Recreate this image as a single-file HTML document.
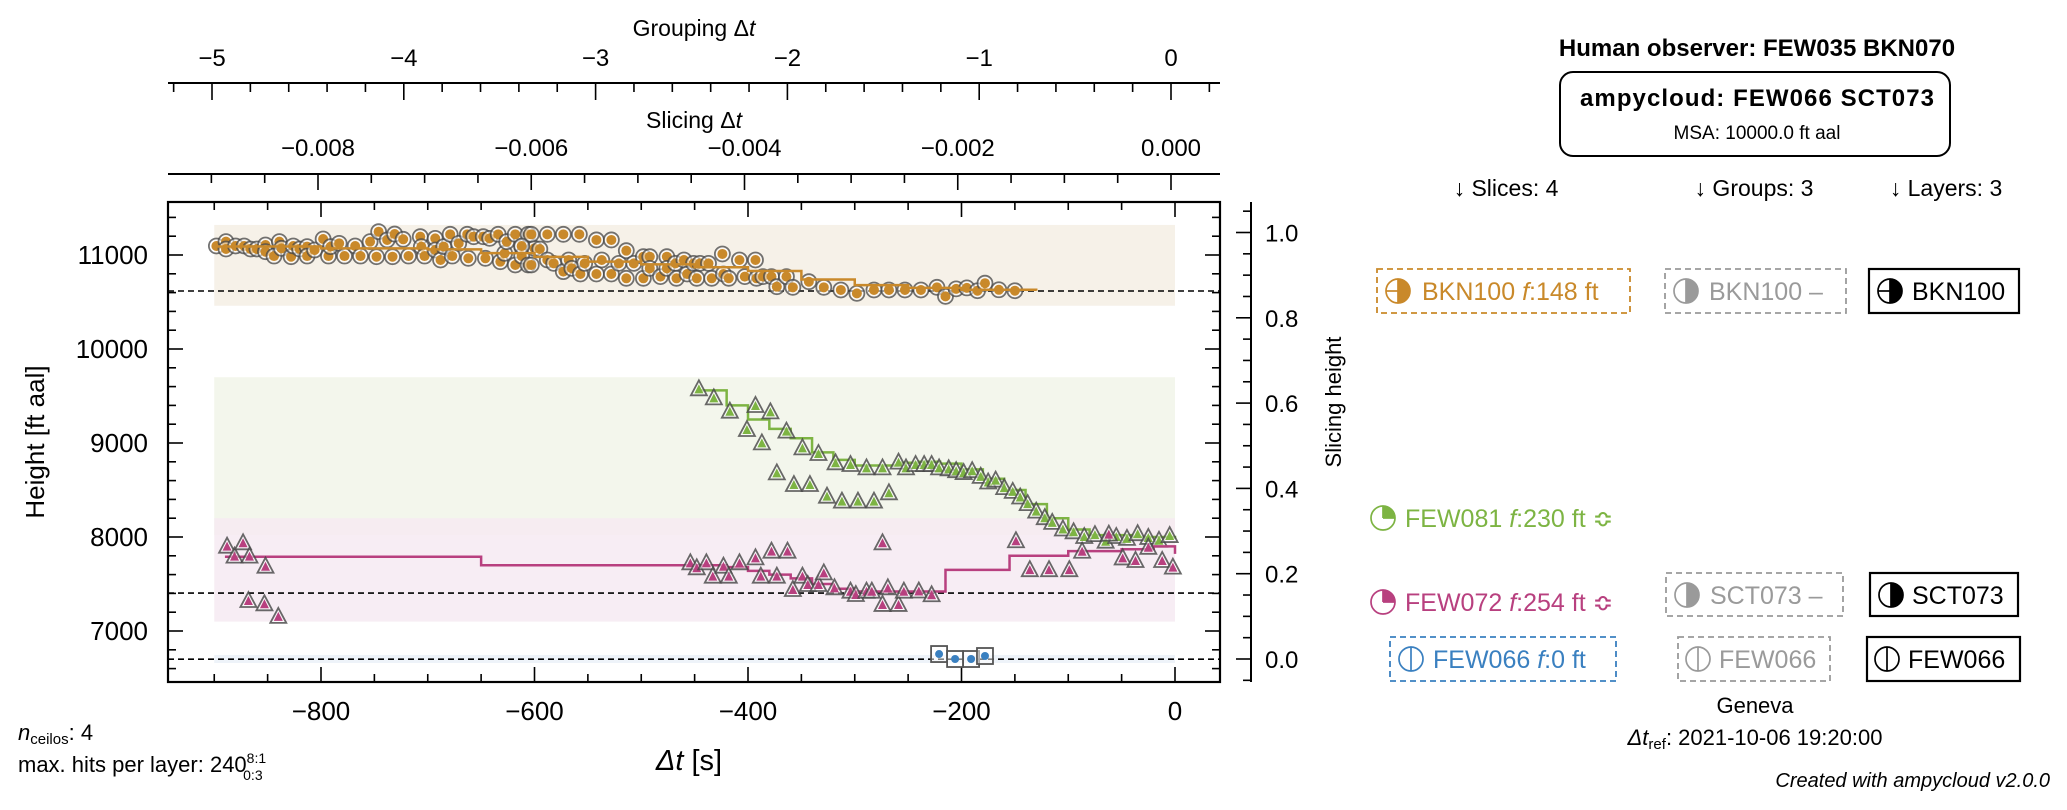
<!DOCTYPE html>
<html><head><meta charset="utf-8">
<style>
html,body{margin:0;padding:0;background:#fff;}
svg{display:block;font-family:"Liberation Sans","DejaVu Sans",sans-serif;}
</style></head>
<body>
<svg id="chart" width="2067" height="810" viewBox="0 0 2067 810" xmlns="http://www.w3.org/2000/svg">
<g id="bands"></g>
<g id="axes"></g>
<g id="marks"></g>
<g id="panel">
  <text x="1757" y="56" font-size="24" font-weight="bold" text-anchor="middle">Human observer: FEW035 BKN070</text>
  <rect x="1560" y="72" width="390" height="84" rx="13" fill="none" stroke="#000" stroke-width="2"/>
  <text x="1757" y="106" font-size="24" font-weight="bold" text-anchor="middle" textLength="354">ampycloud: FEW066 SCT073</text>
  <text x="1757" y="139" font-size="19" text-anchor="middle">MSA: 10000.0 ft aal</text>
  <text x="1506" y="196" font-size="23" text-anchor="middle">↓ Slices: 4</text>
  <text x="1754" y="196" font-size="23" text-anchor="middle">↓ Groups: 3</text>
  <text x="1946" y="196" font-size="23" text-anchor="middle">↓ Layers: 3</text>
  <text x="1755" y="713" font-size="22" text-anchor="middle">Geneva</text>
  <text x="1755" y="745" font-size="22" text-anchor="middle"><tspan font-style="italic">Δt</tspan><tspan font-size="15" dy="4">ref</tspan><tspan dy="-4">: 2021-10-06 19:20:00</tspan></text>
  <text x="2050" y="787" font-size="20" font-style="italic" text-anchor="end">Created with ampycloud v2.0.0</text>
  <text x="18" y="740" font-size="22"><tspan font-style="italic">n</tspan><tspan font-size="15" dy="4">ceilos</tspan><tspan dy="-4">: 4</tspan></text>
  <text x="18" y="772" font-size="22">max. hits per layer: 240<tspan font-size="14" dy="-9">8:1</tspan><tspan font-size="14" dx="-23" dy="17">0:3</tspan></text>
</g>
<g id="labels"></g>
</svg>
<script>
// ---------- data ----------
const orangeT=[-898,-889,-889,-880,-872,-866,-860,-852,-852,-844,-839,-837,-828,-826,-820,-813,-813,-806,-798,-793,-791,-783,-778,-768,-763,-754,-748,-746,-738,-733,-731,-723,-718,-707,-706,-703,-693,-693,-688,-685,-679,-677,-671,-663,-662,-657,-648,-646,-642,-634,-632,-628,-626,-618,-618,-612,-612,-606,-606,-600,
-612,-603,-603,-595,-588,-588,-582,-573,-573,-568,-565,-558,-557,-553,-542,-542,-537,-528,-528,-521,-514,-514,-507,-498,-498,-492,-492,-482,-476,-476,-468,-467,-460,-457,-451,-448,-445,-437,-434,-424,-423,-418,-408,-403,-393,-392,-386,-378,-373,-364,-358,-343,-329,-313,-298,-282,-268,-253,-238,-223,
-215,-205,-195,-185,-178,-165,-150];
const orangeH=[11096,11142,11064,11096,11096,11064,11064,11106,11035,10989,11142,11071,10982,11096,11064,11089,10989,11053,11170,10989,11089,11124,10989,11096,10989,11142,10982,11248,11160,10982,11223,11167,10989,11195,11089,10989,11177,11053,10947,11089,11220,10989,11124,11220,10965,11195,11195,10965,11177,11220,10929,11018,11142,11220,10894,11089,10989,11220,10894,11071,
11096,11220,10894,11064,11220,10947,10911,11220,10823,10947,10858,11220,10798,10911,11160,10798,10947,11160,10798,10911,11046,10752,10911,10982,10752,10982,10858,10770,10982,10858,10911,10752,10947,10798,10911,10752,10911,10911,10752,11011,10798,10752,10947,10770,10947,10752,10770,10770,10663,10770,10656,10716,10656,10628,10592,10628,10628,10628,10628,10656,
10560,10640,10650,10620,10700,10630,10620];
const orangeLineT=[-900,-800,-700,-650,-600,-550,-500,-450,-400,-350,-300,-250,-200,-130];
const orangeLineH=[11090,11070,11060,11020,10980,10930,10900,10870,10830,10740,10680,10650,10630,10620];

const greenT=[-446,-432,-417,-401,-393,-387,-379,-373,-364,-357,-349,-342,-334,-326,-318,-312,-304,-297,-289,-282,-274,-268,-259,-252,-243,-235,-228,-221,
-212,-205,-198,-190,-182,-175,-168,-160,-152,-145,-138,-130,-122,-115,-105,-95,-85,-75,-65,-55,-45,-35,-25,-15,-5];
const greenH=[9571,9475,9333,9138,9394,8996,9326,8677,9121,8553,8943,8553,8883,8429,8784,8376,8766,8376,8730,8376,8730,8465,8791,8730,8766,8766,8766,8730,
8720,8700,8680,8700,8640,8580,8600,8520,8480,8420,8350,8270,8200,8150,8080,8050,8000,8020,7950,8000,7980,8030,7990,7960,8010];
const greenLineT=[-446,-420,-400,-380,-360,-340,-320,-300,-280,-260,-240,-220,-200,-180,-160,-140,-120,-100,-80,-40,0];
const greenLineH=[9560,9400,9250,9150,9050,8900,8820,8760,8760,8790,8800,8780,8720,8620,8500,8350,8200,8080,8020,8000,7980];

const pinkT=[-888,-881,-873,-867,-852,-868,-853,-840,-454,-448,-439,-433,-423,-418,-408,-393,-388,-378,-373,-363,-358,-349,-344,-334,-329,-319,-304,-299,-289,-284,-274,-269,-274,-259,-254,-240,-228,
-149,-136,-118,-99,-87,-62,-49,-37,-25,-12,-2];
const pinkH=[7897,7791,7933,7791,7684,7319,7284,7150,7720,7667,7720,7578,7684,7578,7720,7773,7578,7844,7578,7844,7436,7578,7489,7489,7613,7454,7418,7383,7418,7418,7933,7454,7277,7277,7418,7420,7380,
7955,7647,7647,7647,7843,8025,7772,7745,7885,7745,7674];
const pinkLineT=[-890,-650,-440,-420,-400,-380,-360,-340,-320,-300,-215,-155,-100,-50,-20,0];
const pinkLineH=[7790,7700,7700,7680,7640,7600,7560,7500,7450,7420,7650,7800,7850,7870,7900,7820];

const blueT=[-221,-206,-191,-178];
const blueH=[6755,6702,6702,6734];

const bandLo=[10460,8020,7100,6660];
const bandHi=[11320,9700,8200,6745];
const dashedH=[10617,7404,6700];

const xTicks=[-800,-600,-400,-200,0];
const yTicks=[7000,8000,9000,10000,11000];
const groupTicks=[-5,-4,-3,-2,-1,0];
const sliceTicks=[-0.008,-0.006,-0.004,-0.002,0.000];
const sliceHTicks=[0.0,0.2,0.4,0.6,0.8,1.0];

// ---------- scales ----------
const L=168,R=1220,T=202,B=682;
const X=t=>1175+t*1.0675;
const Y=h=>255+(11000-h)*0.094;
const GX=g=>1171+g*191.8;
const SX=s=>1171+s*106625;
const SY=v=>659-v*426.5;
const NS="http://www.w3.org/2000/svg";
function mk(tag,attrs,parent){const e=document.createElementNS(NS,tag);for(const k in attrs)e.setAttribute(k,attrs[k]);parent.appendChild(e);return e;}
const bands=document.getElementById('bands'),axes=document.getElementById('axes'),marks=document.getElementById('marks'),labels=document.getElementById('labels');

const bandCol=['#f6f1e8','#f3f6ec','#f6eaf2','#eef3f9'];
const bandNames=['bkn100-band','few081-band','few072-band','few066-band'];
for(let i=0;i<bandLo.length;i++){
  const r=mk('rect',{x:X(-900),y:Y(bandHi[i]),width:X(0)-X(-900),height:Y(bandLo[i])-Y(bandHi[i]),fill:bandCol[i],'fill-opacity':i==2?0.85:1},bands);
  
  
}
for(const h of dashedH){
  const d=mk('line',{x1:L,x2:R,y1:Y(h),y2:Y(h),stroke:'#000','stroke-width':1.6,'stroke-dasharray':'6,4'},bands);
  
  
}

const fr=mk('rect',{x:L,y:T,width:R-L,height:B-T,fill:'none',stroke:'#000','stroke-width':2.2},axes);


function tick(x1,y1,x2,y2){mk('line',{x1,y1,x2,y2,stroke:'#000','stroke-width':1.6},axes);}
for(let t=-900;t<=40;t+=50){const x=X(t);if(x<L||x>R)continue;const maj=t%200==0;const l=maj?15:8;tick(x,B,x,B-l);tick(x,T,x,T+l);}
for(const t of xTicks){const e=mk('text',{x:X(t),y:B+38,'font-size':26,'text-anchor':'middle'},axes);e.textContent=(t<0?'−':'')+Math.abs(t);
  
  }
for(let h=6600;h<=11600;h+=200){const y=Y(h);if(y<T||y>B)continue;const maj=h%1000==0;const l=maj?15:8;tick(L,y,L+l,y);tick(R,y,R-l,y);}
for(const h of yTicks){const e=mk('text',{x:L-20,y:Y(h)+9,'font-size':26,'text-anchor':'end'},axes);e.textContent=h;
  
  }
let e=mk('text',{x:0,y:0,'font-size':26,'text-anchor':'middle',transform:`translate(44,${(T+B)/2}) rotate(-90)`},axes);e.textContent='Height [ft aal]';


e=mk('text',{x:(L+R)/2-5,y:B+88,'font-size':29,'text-anchor':'middle'},axes);e.innerHTML='<tspan font-style="italic">Δt</tspan> [s]';



const RA=1251;
mk('line',{x1:RA,x2:RA,y1:T,y2:B,stroke:'#000','stroke-width':2},axes);
for(let v=-0.05;v<=1.101;v+=0.05){const y=SY(v);if(y<T||y>B)continue;const maj=Math.abs(Math.round(v*100)%20)==0;tick(RA,y,RA-(maj?15:8),y);}
for(const v of sliceHTicks){const t2=mk('text',{x:RA+14,y:SY(v)+9,'font-size':24},axes);t2.textContent=v.toFixed(1);
  
  }
e=mk('text',{x:0,y:0,'font-size':22,'text-anchor':'middle',transform:`translate(1341,${(T+B)/2-40}) rotate(-90)`},axes);e.textContent='Slicing height';



const SA=174;
mk('line',{x1:L,x2:R,y1:SA,y2:SA,stroke:'#000','stroke-width':2},axes);
for(let k=-18;k<=0;k++){const s=k*0.0005;const x=SX(s);if(x<L||x>R)continue;const maj=k%4==0;tick(x,SA,x,SA+(maj?16:9));}
for(const s of sliceTicks){const t2=mk('text',{x:SX(s),y:156,'font-size':24,'text-anchor':'middle'},axes);t2.textContent=(s<0?'−':'')+Math.abs(s).toFixed(3);
  
  }
e=mk('text',{x:(L+R)/2,y:128,'font-size':23,'text-anchor':'middle'},axes);e.innerHTML='Slicing Δ<tspan font-style="italic">t</tspan>';


const GA=83;
mk('line',{x1:L,x2:R,y1:GA,y2:GA,stroke:'#000','stroke-width':2},axes);
for(let k=-26;k<=1;k++){const g=k*0.2;const x=GX(g);if(x<L||x>R)continue;const maj=k%5==0;tick(x,GA,x,GA+(maj?17:9));}
for(const g of groupTicks){const t2=mk('text',{x:GX(g),y:66,'font-size':24,'text-anchor':'middle'},axes);t2.textContent=(g<0?'−':'')+Math.abs(g);
  
  }
e=mk('text',{x:(L+R)/2,y:36,'font-size':23,'text-anchor':'middle'},axes);e.innerHTML='Grouping Δ<tspan font-style="italic">t</tspan>';



function stepPath(ts,hs){let d=`M${X(ts[0])},${Y(hs[0])}`;for(let i=1;i<ts.length;i++){d+=`H${X(ts[i])}V${Y(hs[i])}`;}return d;}
function circles(ts,hs,col,name){
  for(let i=0;i<ts.length;i++){
    const g=mk('g',{},marks);
    
    
    mk('circle',{cx:X(ts[i]),cy:Y(hs[i]),r:7.5,fill:'#fff','fill-opacity':0.5,stroke:'#444','stroke-opacity':0.75,'stroke-width':1.8},g);
    mk('circle',{cx:X(ts[i]),cy:Y(hs[i]),r:5,fill:col},g);
  }
}
function tris(ts,hs,col,name){
  for(let i=0;i<ts.length;i++){
    const x=X(ts[i]),y=Y(hs[i]);
    const g=mk('g',{},marks);
    
    
    mk('polygon',{points:`${x},${y-9} ${x-8},${y+6} ${x+8},${y+6}`,fill:'#fff','fill-opacity':0.5,stroke:'#444','stroke-opacity':0.8,'stroke-width':1.8},g);
    mk('polygon',{points:`${x},${y-5} ${x-4.5},${y+4} ${x+4.5},${y+4}`,fill:col},g);
  }
}
function squares(ts,hs,col,name){
  for(let i=0;i<ts.length;i++){
    const x=X(ts[i]),y=Y(hs[i]);
    const g=mk('g',{},marks);
    
    
    mk('rect',{x:x-8,y:y-8,width:16,height:16,fill:'#fff','fill-opacity':0.5,stroke:'#555','stroke-width':1.8},g);
    mk('circle',{cx:x,cy:y,r:4,fill:col},g);
  }
}
circles(orangeT,orangeH,'#c9892a','bkn100-point');
let p=mk('path',{d:stepPath(orangeLineT,orangeLineH),fill:'none',stroke:'#c9892a','stroke-width':2.5},marks);


p=mk('path',{d:stepPath(greenLineT,greenLineH),fill:'none',stroke:'#7db443','stroke-width':2.5},marks);


tris(greenT,greenH,'#7db443','few081-point');
p=mk('path',{d:stepPath(pinkLineT,pinkLineH),fill:'none',stroke:'#b8407f','stroke-width':2.5},marks);


tris(pinkT,pinkH,'#b8407f','few072-point');
squares(blueT,blueH,'#3a80c0','few066-point');

function icon(cx,cy,col,type){
  const g=mk('g',{},labels);
  const r=12;
  if(type=='half'||type=='halfbar'){mk('path',{d:`M${cx},${cy-r}A${r},${r} 0 0 1 ${cx},${cy+r}Z`,fill:col},g);}
  if(type=='quarter'){mk('path',{d:`M${cx},${cy}V${cy-r}A${r},${r} 0 0 1 ${cx+r},${cy}Z`,fill:col},g);}
  mk('circle',{cx,cy,r,fill:'none',stroke:col,'stroke-width':1.7},g);
  if(type!='quarter')mk('line',{x1:cx,x2:cx,y1:cy-r,y2:cy+r,stroke:col,'stroke-width':1.7},g);
  if(type=='halfbar')mk('line',{x1:cx-r,x2:cx,y1:cy,y2:cy,stroke:col,'stroke-width':1.7},g);
  if(type=='quarter'){mk('line',{x1:cx,x2:cx,y1:cy-r,y2:cy,stroke:col,'stroke-width':1.7},g);mk('line',{x1:cx,x2:cx+r,y1:cy,y2:cy,stroke:col,'stroke-width':1.7},g);}
  return g;
}
function box(x1,y1,x2,y2,col,dashed,name){
  const r=mk('rect',{x:x1,y:y1,width:x2-x1,height:y2-y1,fill:'none',stroke:col,'stroke-width':dashed?1.8:2.2},labels);
  if(dashed)r.setAttribute('stroke-dasharray','6,4');
  
  
}
function label(x,y,col,html,name){
  const t=mk('text',{x,y,'font-size':25,fill:col},labels);t.innerHTML=html;
  
  
}
const OR='#c9892a',GR='#7db443',PK='#b8407f',BL='#3a80c0',GY='#9a9a9a';
box(1377,269,1630,313,OR,true,'slice-bkn100-box');icon(1398,291,OR,'halfbar');label(1422,300,OR,'BKN100 <tspan font-style="italic">f</tspan>:148 ft','slice-bkn100-label');
box(1665,269,1846,313,GY,true,'group-bkn100-box');icon(1686,291,GY,'half');label(1709,300,GY,'BKN100 –','group-bkn100-label');
box(1869,269,2019,313,'#000',false,'layer-bkn100-box');icon(1890,291,'#000','halfbar');label(1912,300,'#000','BKN100','layer-bkn100-label');
icon(1383,518,GR,'quarter');label(1405,527,GR,'FEW081 <tspan font-style="italic">f</tspan>:230 ft ≎','slice-few081-label');
icon(1383,602,PK,'quarter');label(1405,611,PK,'FEW072 <tspan font-style="italic">f</tspan>:254 ft ≎','slice-few072-label');
box(1666,573,1843,616,GY,true,'group-sct073-box');icon(1687,595,GY,'half');label(1710,604,GY,'SCT073 –','group-sct073-label');
box(1870,573,2018,616,'#000',false,'layer-sct073-box');icon(1891,595,'#000','half');label(1912,604,'#000','SCT073','layer-sct073-label');
box(1390,637,1616,681,BL,true,'slice-few066-box');icon(1411,659,BL,'line');label(1433,668,BL,'FEW066 <tspan font-style="italic">f</tspan>:0 ft','slice-few066-label');
box(1678,637,1830,681,GY,true,'group-few066-box');icon(1698,659,GY,'line');label(1719,668,GY,'FEW066','group-few066-label');
box(1867,637,2020,681,'#000',false,'layer-few066-box');icon(1887,659,'#000','line');label(1908,668,'#000','FEW066','layer-few066-label');
</script>
</body></html>
